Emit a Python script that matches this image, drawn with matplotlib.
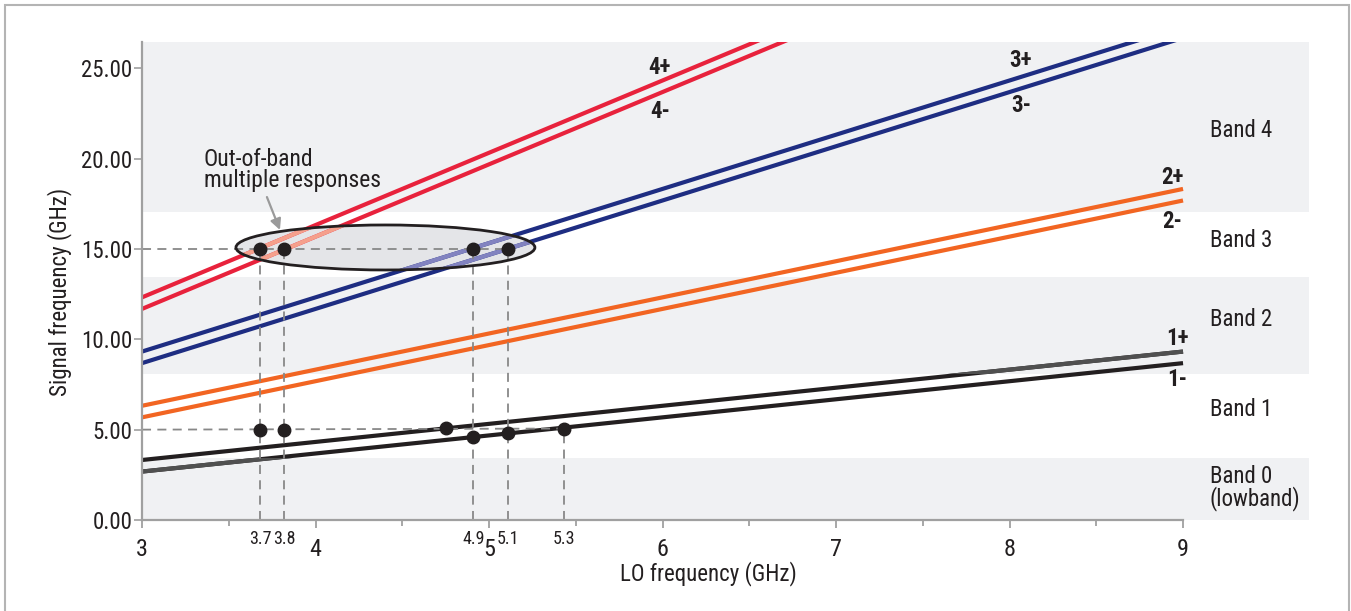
import matplotlib
matplotlib.use("Agg")
import matplotlib.pyplot as plt
from matplotlib.patches import Ellipse, Rectangle

plt.rcParams['font.family'] = ['Roboto Condensed', 'Roboto', 'DejaVu Sans']

# LO frequency range (GHz) and the signal-frequency ends of each response line
lo_ends = [3, 9]
resp_1p = [3.32, 9.32]
resp_1m = [2.68, 8.68]
resp_2p = [6.32, 18.32]
resp_2m = [5.68, 17.68]
resp_3p = [9.32, 27.32]
resp_3m = [8.68, 26.68]
resp_4p = [12.32, 36.32]
resp_4m = [11.68, 35.68]

# band edges (GHz)
band_edges = [0, 3.43, 8.08, 13.46, 17.05, 26.45]
band_names = ["Band 0\n(lowband)", "Band 1", "Band 2", "Band 3", "Band 4"]
band_label_y = [1.77, 6.09, 11.1, 15.47, 21.53]

# marked responses
dots_15_x = [3.68, 3.82, 4.91, 5.11]
dots_15_y = [15, 15, 15, 15]
dots_5_x = [3.68, 3.82, 4.75, 4.91, 5.11, 5.43]
dots_5_y = [5.0, 5.0, 5.07, 4.59, 4.79, 5.06]
small_tick_x = [3.68, 3.82, 4.91, 5.11, 5.43]
small_tick_labels = ["3.7", "3.8", "4.9", "5.1", "5.3"]

major_x = [3, 4, 5, 6, 7, 8, 9]
minor_x = [3.5, 4.5, 5.5, 6.5, 7.5, 8.5]
y_ticks = [0, 5, 10, 15, 20, 25]

RED, RED_LT = '#e8223c', '#f5a08c'
NAVY, NAVY_LT = '#1e2d82', '#8283c0'
ORANGE = '#f26522'
BLACK, DARKGRAY = '#231f20', '#505050'
BAND_GRAY = '#f0f1f3'
AXIS_GRAY = '#a0a0a0'
DASH_GRAY = '#888888'

fig = plt.figure(figsize=(13.51, 6.11), dpi=100)
ax = fig.add_axes([142 / 1351, 1 - 520 / 611, (1309 - 142) / 1351, (520 - 42) / 611])
ax.set_xlim(3, 9.726)
ax.set_ylim(0, 26.45)

# frame around the figure
fig.patches.append(Rectangle((5 / 1351, -0.05), 1344 / 1351, 1.05 - 5 / 611, transform=fig.transFigure,
                             fill=False, edgecolor='#b4b4b4', lw=1.5, clip_on=False))

# bands
band_patches = []
for i in range(len(band_names)):
    lo, hi = band_edges[i], band_edges[i + 1]
    col = BAND_GRAY if i % 2 == 0 else 'white'
    band_patches.append(ax.axhspan(lo, hi, color=col, lw=0, zorder=0))
    ax.text(9.155, band_label_y[i], band_names[i], fontsize=16.5, color=BLACK,
            ha='left', va='center', linespacing=0.9)

# ellipse fill behind lines
ell_kw = dict(xy=(4.403, 15.08), width=1.723, height=2.49)
ell_fill = Ellipse(**ell_kw, facecolor='#e4e5e8', edgecolor='none', zorder=1)
ax.add_patch(ell_fill)

lw = 3
ax.plot(lo_ends, resp_4p, color=RED, lw=lw, zorder=2, solid_capstyle='butt')
ax.plot(lo_ends, resp_4m, color=RED, lw=lw, zorder=2, solid_capstyle='butt')
ax.plot(lo_ends, resp_3p, color=NAVY, lw=lw, zorder=2, solid_capstyle='butt')
ax.plot(lo_ends, resp_3m, color=NAVY, lw=lw, zorder=2, solid_capstyle='butt')
ax.plot(lo_ends, resp_2p, color=ORANGE, lw=lw, zorder=2, solid_capstyle='butt')
ax.plot(lo_ends, resp_2m, color=ORANGE, lw=lw, zorder=2, solid_capstyle='butt')
ax.plot(lo_ends, resp_1p, color=BLACK, lw=lw, zorder=2, solid_capstyle='butt')
ax.plot(lo_ends, resp_1m, color=BLACK, lw=lw, zorder=2, solid_capstyle='butt')

# out-of-band parts of the fundamental drawn lighter
g1, = ax.plot(lo_ends, resp_1p, color=DARKGRAY, lw=lw, zorder=2.1, solid_capstyle='butt')
g1.set_clip_path(band_patches[2])
g2, = ax.plot(lo_ends, resp_1m, color=DARKGRAY, lw=lw, zorder=2.1, solid_capstyle='butt')
g2.set_clip_path(band_patches[0])

# lighter copies inside the ellipse
for ys, col in [(resp_4p, RED_LT), (resp_4m, RED_LT), (resp_3p, NAVY_LT), (resp_3m, NAVY_LT)]:
    ln, = ax.plot(lo_ends, ys, color=col, lw=lw, zorder=2.2, solid_capstyle='butt')
    ln.set_clip_path(ell_fill)

ax.add_patch(Ellipse(**ell_kw, facecolor='none', edgecolor=BLACK, lw=2, zorder=3))

# dashed guides
dash = dict(color=DASH_GRAY, lw=1.3, dashes=(5, 3.5), zorder=2.5)
ax.plot([3, dots_15_x[-1]], [15, 15], **dash)
ax.plot([3, dots_5_x[-1]], [5, dots_5_y[-1]], **dash)
for x in dots_15_x:
    ax.plot([x, x], [0, 15], **dash)
ax.plot([dots_5_x[-1], dots_5_x[-1]], [0, dots_5_y[-1]], **dash)

ax.plot(dots_15_x, dots_15_y, 'o', color=BLACK, ms=9, zorder=4)
ax.plot(dots_5_x, dots_5_y, 'o', color=BLACK, ms=9, zorder=4)

# line labels
lab = dict(fontsize=16.5, fontweight='bold', color=BLACK, ha='center', va='center')
ax.text(5.985, 25.05, "4+", **lab)
ax.text(5.985, 22.6, "4-", **lab)
ax.text(8.065, 25.4, "3+", **lab)
ax.text(8.065, 22.95, "3-", **lab)
ax.text(8.94, 18.95, "2+", **lab)
ax.text(8.94, 16.5, "2-", **lab)
ax.text(8.965, 10.05, "1+", **lab)
ax.text(8.965, 7.78, "1-", **lab)

# annotation
ax.text(3.357, 20.6, "Out-of-band\nmultiple responses", fontsize=17, color=BLACK,
        ha='left', va='top', linespacing=0.92)
ax.annotate("", xy=(3.795, 16.05), xytext=(3.72, 17.87),
            arrowprops=dict(arrowstyle='-|>', color='#9a9a9a', lw=1.6, mutation_scale=16,
                            shrinkA=0, shrinkB=0))

# axes styling
for s in ['top', 'right']:
    ax.spines[s].set_visible(False)
ax.spines['left'].set_color(AXIS_GRAY)
ax.spines['bottom'].set_color(AXIS_GRAY)
ax.spines['left'].set_linewidth(1.6)
ax.spines['bottom'].set_linewidth(1.6)
ax.spines['bottom'].set_bounds(3, 9)
ax.spines['left'].set_zorder(5)
ax.spines['bottom'].set_zorder(5)

ax.set_xticks(major_x)
ax.set_xticklabels([str(v) for v in major_x], fontsize=17.5, color=BLACK)
ax.set_xticks(minor_x, minor=True)
ax.tick_params(axis='x', which='major', length=6, width=1.3, color=AXIS_GRAY, pad=7)
ax.tick_params(axis='x', which='minor', length=4, width=1.3, color=AXIS_GRAY)
ax.set_yticks(y_ticks)
ax.set_yticklabels([f"{v:.2f}" for v in y_ticks], fontsize=16.5, color=BLACK)
ax.tick_params(axis='y', length=6, width=1.2, color=AXIS_GRAY, pad=1)

for x, t in zip(small_tick_x, small_tick_labels):
    ax.annotate(t, xy=(x, 0), xycoords=('data', 'axes fraction'), xytext=(0, -7),
                textcoords='offset points', ha='center', va='top', fontsize=13, color=BLACK)

fig.text(708 / 1351, 1 - 574 / 611, "LO frequency (GHz)", fontsize=16.5, color=BLACK,
         ha='center', va='center')
fig.text(60 / 1351, 1 - 292 / 611, "Signal frequency (GHz)", fontsize=16.5, color=BLACK,
         ha='center', va='center', rotation=90)

fig.savefig("out.png", dpi=100)
